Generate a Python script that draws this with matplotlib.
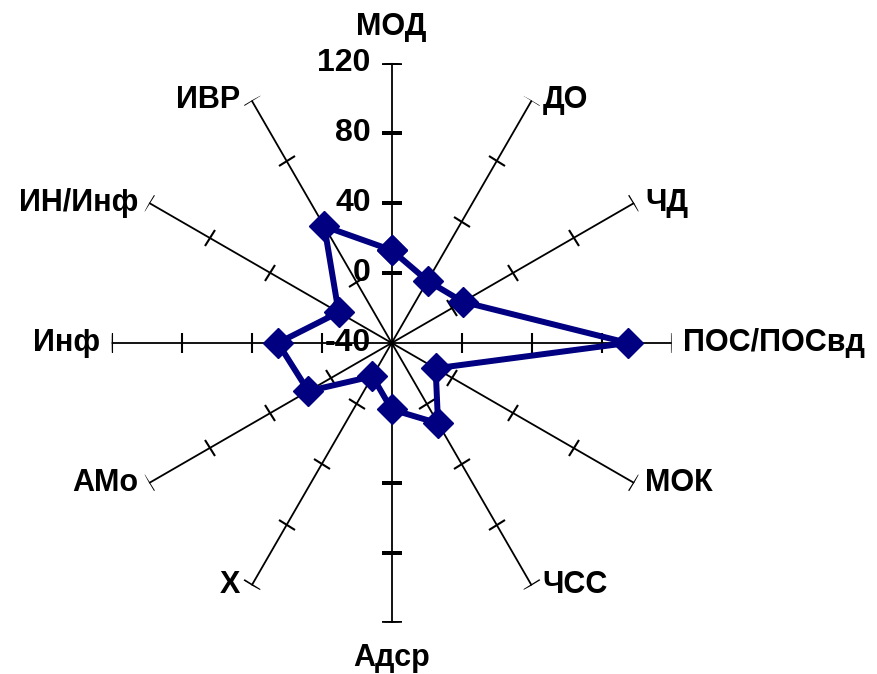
import numpy as np
import matplotlib
matplotlib.use('Agg')
import matplotlib.pyplot as plt
from matplotlib.markers import MarkerStyle
from matplotlib.transforms import Affine2D

plt.rcParams['font.family'] = ['Liberation Sans', 'DejaVu Sans']

# категории по часовой стрелке, начиная сверху
categories = ['МОД', 'ДО', 'ЧД', 'ПОС/ПОСвд', 'МОК', 'ЧСС', 'Адср',
              'Х', 'АМо', 'Инф', 'ИН/Инф', 'ИВР']
values = [13, 1, 7, 95, -11, 13, -2, -18, 15, 25, -5, 37]
r_ticks = [-40, 0, 40, 80, 120]

n = len(categories)
theta = np.arange(n) * 2 * np.pi / n

fig = plt.figure(figsize = (8.78, 6.74), dpi = 100)
ax = fig.add_axes([0.1272, 0.0757, 0.6378, 0.8309], projection = 'polar')
ax.set_theta_offset(np.pi / 2)
ax.set_theta_direction(-1)
ax.set_ylim(-40, 120)
ax.grid(False)
ax.spines['polar'].set_visible(False)
ax.set_xticks([])
ax.set_yticks([])

# оси и засечки
for i, t in enumerate(theta):
    ax.plot([t, t], [-40, 120], color = 'black', lw = 1.3, zorder = 1)
    m = MarkerStyle('_', transform = Affine2D().rotate_deg(-i * 30))
    ax.plot([t] * 4, r_ticks[1:], linestyle = 'none', marker = m,
            markersize = 14, markeredgewidth = 1.5, color = 'black', zorder = 1)

# подписи шкалы
for r in r_ticks:
    ax.annotate(str(r), xy = (0, r), xytext = (-15, 0), textcoords = 'offset points',
                ha = 'right', va = 'center', fontsize = 23, fontweight = 'bold')

# подписи категорий
for i, (t, lab) in enumerate(zip(theta, categories)):
    ang = 90 - i * 30
    if ang == 90:
        off, ha, va = (0, 26), 'center', 'center'
    elif ang == -90:
        off, ha, va = (0, -25), 'center', 'center'
    elif np.cos(np.radians(ang)) > 0:
        off, ha, va = (8, 0), 'left', 'center'
    else:
        off, ha, va = (-8, 0), 'right', 'center'
    ax.annotate(lab, xy = (t, 120), xytext = off, textcoords = 'offset points',
                ha = ha, va = va, fontsize = 22, fontweight = 'bold')

th = np.append(theta, theta[0])
vals = np.append(values, values[0])
ax.plot(th, vals, color = '#000080', lw = 4.3, marker = 'D', markersize = 15,
        zorder = 3, clip_on = False)

fig.savefig('out.png', dpi = 100)
